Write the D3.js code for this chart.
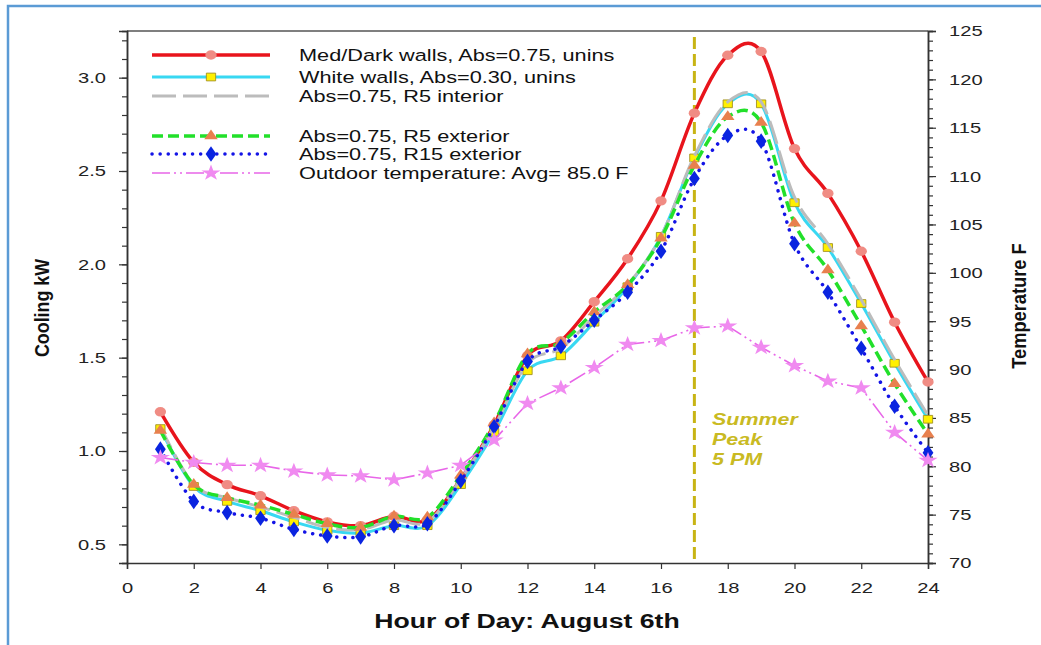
<!DOCTYPE html>
<html>
<head>
<meta charset="utf-8">
<script src="https://cdn.jsdelivr.net/npm/d3@7"></script>
<style>
  body { margin: 0; background: #fff; }
  svg text { font-family: "Liberation Sans", Arial, sans-serif; fill: #111; }
</style>
</head>
<body>
<script>
const w = 1041;
const h = 645;
const margin = { top: 31, right: 113, bottom: 82, left: 127 };
const sx = 1.3; // the reference text is drawn wide

// data
const hours = [1,2,3,4,5,6,7,8,9,10,11,12,13,14,15,16,17,18,19,20,21,22,23,24];
const medDark = [1.21,0.94,0.82,0.76,0.68,0.62,0.60,0.65,0.63,0.85,1.14,1.51,1.59,1.80,2.03,2.34,2.81,3.12,3.14,2.62,2.38,2.07,1.69,1.37];
const whiteWalls = [1.12,0.81,0.73,0.68,0.62,0.575,0.56,0.60,0.60,0.82,1.10,1.43,1.51,1.69,1.88,2.15,2.57,2.86,2.86,2.33,2.09,1.79,1.47,1.17];
const r5Interior = [1.13,0.82,0.75,0.70,0.645,0.59,0.58,0.63,0.62,0.85,1.13,1.47,1.55,1.72,1.89,2.15,2.58,2.87,2.87,2.36,2.11,1.81,1.49,1.19];
const r5Exterior = [1.11,0.82,0.75,0.71,0.66,0.61,0.59,0.65,0.645,0.87,1.15,1.52,1.58,1.745,1.89,2.14,2.53,2.79,2.76,2.22,1.97,1.67,1.36,1.09];
const r15Exterior = [1.01,0.73,0.67,0.64,0.58,0.545,0.54,0.60,0.61,0.84,1.13,1.48,1.56,1.70,1.85,2.07,2.46,2.69,2.66,2.11,1.85,1.55,1.24,0.99];
const outdoorTemp = [80.9,80.4,80.1,80.1,79.5,79.1,79.0,78.6,79.3,80.1,82.7,86.5,88.1,90.2,92.6,93.0,94.3,94.5,92.3,90.4,88.8,88.1,83.5,80.6];

const xTicks = [0,2,4,6,8,10,12,14,16,18,20,22,24];
const kwTicks = [0.5,1.0,1.5,2.0,2.5,3.0];
const tempTicks = [70,75,80,85,90,95,100,105,110,115,120,125];
const peakHour = 17;

const legendLabels = [
  "Med/Dark walls, Abs=0.75, unins",
  "White walls, Abs=0.30, unins",
  "Abs=0.75, R5 interior",
  "Abs=0.75, R5 exterior",
  "Abs=0.75, R15 exterior",
  "Outdoor temperature: Avg= 85.0 F"
];

const svg = d3.select("body").append("svg")
  .attr("width", w)
  .attr("height", h);

// page frame
svg.append("path")
  .attr("d", "M8," + h + " L8,6 L" + w + ",6")
  .attr("fill", "none")
  .attr("stroke", "#5b9bd5")
  .attr("stroke-width", 2.5);

const xScale = d3.scaleLinear().domain([0, 24]).range([margin.left, w - margin.right]);
const yScale = d3.scaleLinear().domain([0.4, 3.25]).range([h - margin.bottom, margin.top]);
const tScale = d3.scaleLinear().domain([70, 125]).range([h - margin.bottom, margin.top]);

// top frame line
svg.append("line")
  .attr("x1", xScale(0)).attr("x2", xScale(24))
  .attr("y1", margin.top).attr("y2", margin.top)
  .attr("stroke", "#555").attr("stroke-width", 1.5);

function styleAxis(g) {
  g.select(".domain").attr("stroke", "#333").attr("stroke-width", 1.5);
  g.selectAll(".tick line").attr("stroke", "#333").attr("stroke-width", 1.2);
  g.selectAll("text").style("font-size", "15.5px").style("fill", "#222");
}

// minor ticks first
svg.append("g")
  .attr("transform", "translate(" + margin.left + ",0)")
  .call(d3.axisLeft(yScale).tickValues(d3.range(5, 33).map(d => d / 10)).tickSize(5).tickFormat(""))
  .call(styleAxis);
svg.append("g")
  .attr("transform", "translate(" + (w - margin.right) + ",0)")
  .call(d3.axisRight(tScale).tickValues(d3.range(70, 126)).tickSize(5).tickFormat(""))
  .call(styleAxis);

const yAxis = svg.append("g")
  .attr("transform", "translate(" + margin.left + ",0)")
  .call(d3.axisLeft(yScale).tickValues(kwTicks).tickSize(8).tickFormat(d3.format(".1f")))
  .call(styleAxis);
yAxis.selectAll(".tick text").attr("x", -21 / sx).attr("transform", "scale(" + sx + ",1)");

const tAxis = svg.append("g")
  .attr("transform", "translate(" + (w - margin.right) + ",0)")
  .call(d3.axisRight(tScale).tickValues(tempTicks).tickSize(8))
  .call(styleAxis);
tAxis.selectAll(".tick text").attr("x", 21 / sx).attr("transform", "scale(" + sx + ",1)");

const xAxis = svg.append("g")
  .attr("transform", "translate(0," + (h - margin.bottom) + ")")
  .call(d3.axisBottom(xScale).tickValues(xTicks).tickSize(6))
  .call(styleAxis);
xAxis.selectAll(".tick text").attr("y", 19).attr("transform", "scale(" + sx + ",1)");

// axis titles, condensed along their length like the reference
svg.append("text")
  .attr("transform", "translate(49,308) scale(1,0.85) rotate(-90)")
  .attr("text-anchor", "middle")
  .style("font-size", "21px").style("font-weight", "bold")
  .text("Cooling kW");
svg.append("text")
  .attr("transform", "translate(1026,306) scale(1,0.87) rotate(-90)")
  .attr("text-anchor", "middle")
  .style("font-size", "21px").style("font-weight", "bold")
  .text("Temperature F");
svg.append("text")
  .attr("transform", "translate(527,628) scale(" + sx + ",1)")
  .attr("text-anchor", "middle")
  .style("font-size", "20.5px").style("font-weight", "bold")
  .text("Hour of Day: August 6th");

// summer peak marker
svg.append("line")
  .attr("x1", xScale(peakHour)).attr("x2", xScale(peakHour))
  .attr("y1", 37).attr("y2", h - margin.bottom)
  .attr("stroke", "#c8b414").attr("stroke-width", 3)
  .attr("stroke-dasharray", "12,5");
["Summer", "Peak", "5 PM"].forEach(function(t, i) {
  svg.append("text")
    .attr("transform", "translate(712," + (425 + i * 20) + ") scale(" + sx + ",1)")
    .style("font-size", "16.5px").style("font-weight", "bold").style("font-style", "italic")
    .style("fill", "#c9ba22")
    .text(t);
});

const series = [
  { values: medDark, scale: yScale, color: "#e8141c", width: 3.5, dash: null, cap: "butt",
    symbol: d3.symbolCircle, size: 70, fill: "#f08c84", stroke: "none", curve: true },
  { values: whiteWalls, scale: yScale, color: "#38d8f2", width: 3, dash: null, cap: "butt",
    symbol: d3.symbolSquare, size: 60, fill: "#fff000", stroke: "#a09020", curve: true },
  { values: r5Interior, scale: yScale, color: "#bcbcbc", width: 3, dash: "24,7", cap: "butt",
    symbol: null, curve: true },
  { values: r5Exterior, scale: yScale, color: "#22e02a", width: 3.5, dash: "11,5", cap: "butt",
    symbol: d3.symbolTriangle, size: 55, fill: "#e8804e", stroke: "none", curve: true },
  { values: r15Exterior, scale: yScale, color: "#1414e6", width: 3.5, dash: "0.1,8", cap: "round",
    symbol: d3.symbolDiamond, size: 70, fill: "#0a24e0", stroke: "none", curve: true },
  { values: outdoorTemp, scale: tScale, color: "#e866e8", width: 1.6, dash: "18,4,2,4,2,4", cap: "butt",
    symbol: d3.symbolStar, size: 80, fill: "#f08af0", stroke: "none", curve: false }
];

series.forEach(function(s) {
  const pts = hours.map((hr, i) => [hr, s.values[i]]);
  const line = d3.line()
    .x(d => xScale(d[0]))
    .y(d => s.scale(d[1]))
    .curve(s.curve ? d3.curveCardinal.tension(0) : d3.curveLinear);
  svg.append("path")
    .datum(pts)
    .attr("d", line)
    .attr("fill", "none")
    .attr("stroke", s.color)
    .attr("stroke-width", s.width)
    .attr("stroke-linecap", s.cap)
    .attr("stroke-dasharray", s.dash);
  if (s.symbol) {
    svg.append("g").selectAll("path")
      .data(pts)
      .enter()
      .append("path")
      .attr("d", d3.symbol().type(s.symbol).size(s.size))
      .attr("transform", d => "translate(" + xScale(d[0]) + "," + s.scale(d[1]) + ") scale(1.2,1)")
      .attr("fill", s.fill)
      .attr("stroke", s.stroke)
      .attr("stroke-width", 0.8);
  }
});

// legend
const legendRows = [55, 77, 96, 136, 154, 173];
series.forEach(function(s, i) {
  const y = legendRows[i];
  svg.append("line")
    .attr("x1", 152).attr("x2", 270)
    .attr("y1", y).attr("y2", y)
    .attr("stroke", s.color)
    .attr("stroke-width", s.width)
    .attr("stroke-linecap", s.cap)
    .attr("stroke-dasharray", s.dash);
  if (s.symbol) {
    svg.append("path")
      .attr("d", d3.symbol().type(s.symbol).size(s.size))
      .attr("transform", "translate(211," + y + ") scale(1.2,1)")
      .attr("fill", s.fill)
      .attr("stroke", s.stroke)
      .attr("stroke-width", 0.8);
  }
  svg.append("text")
    .attr("transform", "translate(299," + (y + 6) + ") scale(" + sx + ",1)")
    .style("font-size", "16.7px")
    .text(legendLabels[i]);
});
</script>
</body>
</html>
